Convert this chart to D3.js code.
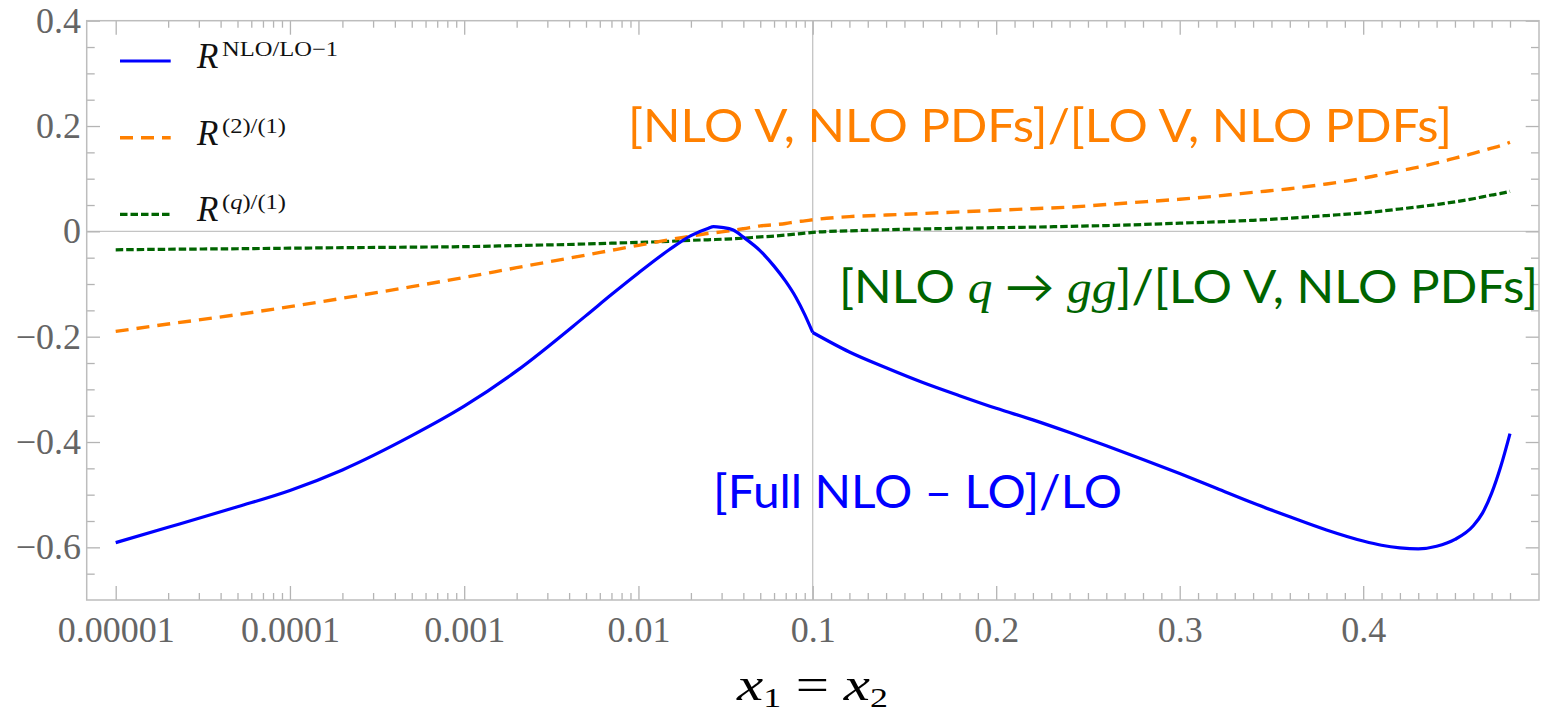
<!DOCTYPE html>
<html><head><meta charset="utf-8">
<script src="https://cdn.jsdelivr.net/npm/d3@7"></script>
<style>body{margin:0;background:#fff}</style>
</head><body>
<svg id="chart" width="1550" height="716"></svg>
<script>
// ---------- data ----------
const xValues = [1e-5, 2e-5, 5e-5, 1e-4, 2e-4, 5e-4, 1e-3, 2e-3, 5e-3, 0.007,
  0.01, 0.015, 0.02, 0.025, 0.027, 0.03, 0.035, 0.04, 0.05, 0.06, 0.07,
  0.08, 0.09, 0.1, 0.12, 0.14, 0.16, 0.18, 0.2, 0.22, 0.24,
  0.26, 0.28, 0.3, 0.32, 0.34, 0.36, 0.38, 0.4, 0.41, 0.42,
  0.43, 0.44, 0.45, 0.46, 0.465, 0.47, 0.475, 0.48];
const blueValues = [-0.591, -0.562, -0.523, -0.492, -0.453, -0.388, -0.332, -0.265, -0.160, -0.120,
  -0.079, -0.035, -0.008, 0.0055, 0.009, 0.0075, 0.0025, -0.011, -0.037, -0.066, -0.095,
  -0.125, -0.158, -0.192, -0.229, -0.259, -0.287, -0.312, -0.336, -0.358, -0.382,
  -0.407, -0.433, -0.460, -0.488, -0.516, -0.542, -0.567, -0.588, -0.596, -0.601,
  -0.603, -0.598, -0.585, -0.559, -0.535, -0.497, -0.446, -0.384];
const orangeValues = [-0.190, -0.176, -0.158, -0.143, -0.127, -0.105, -0.0875, -0.069, -0.045, -0.036,
  -0.0265, -0.016, -0.009, -0.004, -0.0028, -0.001, 0.002, 0.005, 0.0105, 0.0125, 0.015,
  0.018, 0.020, 0.022, 0.028, 0.031, 0.034, 0.037, 0.040, 0.043, 0.046,
  0.051, 0.056, 0.061, 0.067, 0.074, 0.081, 0.090, 0.101, 0.108, 0.115,
  0.122, 0.130, 0.139, 0.148, 0.153, 0.158, 0.163, 0.169];
const greenValues = [-0.035, -0.034, -0.033, -0.032, -0.031, -0.030, -0.029, -0.027, -0.024, -0.0225,
  -0.021, -0.019, -0.017, -0.016, -0.0156, -0.015, -0.014, -0.013, -0.0105, -0.009, -0.007,
  -0.005, -0.0035, -0.002, 0.001, 0.003, 0.0045, 0.006, 0.007, 0.008, 0.0095,
  0.011, 0.013, 0.0155, 0.018, 0.021, 0.025, 0.030, 0.035, 0.0385, 0.0425,
  0.0465, 0.051, 0.056, 0.062, 0.0655, 0.069, 0.072, 0.076];

const logTicks = [1e-5, 1e-4, 1e-3, 1e-2, 0.1];
const logTickLabels = ["0.00001", "0.0001", "0.001", "0.01", "0.1"];
const linTicks = [0.2, 0.3, 0.4];
const linTickLabels = ["0.2", "0.3", "0.4"];
const yTicks = [-0.6, -0.4, -0.2, 0, 0.2, 0.4];
const yTickLabels = ["\u22120.6", "\u22120.4", "\u22120.2", "0", "0.2", "0.4"];

const seriesNames = ["blue", "orange", "green"];
const annotations = ["[Full NLO \u2013 LO]/LO", "[NLO V, NLO PDFs]/[LO V, NLO PDFs]", "[LO V, NLO PDFs]"];

// ---------- layout ----------
const frame = {left: 86.7, right: 1539, top: 20.7, bottom: 600};
const svg = d3.select("#chart");

const xLog = d3.scaleLog().domain([1e-5, 0.1]).range([115.7, 812.7]);
const xLin = d3.scaleLinear().domain([0.1, 0.5]).range([812.7, 812.7 + 0.4 * 1835]);
const xPos = v => v <= 0.1 ? xLog(v) : xLin(v);
const y = d3.scaleLinear().domain([-0.7, 0.4]).range([frame.bottom, frame.top]);

const tickColor = "#b4b4b4";
const labelColor = "#656565";
const tickFont = "'Liberation Serif', 'Times New Roman', serif";

// minor ticks
const logMinor = [];
[1e-5, 1e-4, 1e-3, 1e-2].forEach(d => { for (let k = 2; k <= 9; k++) logMinor.push(k * d); });
const linMinor = d3.range(11, 49).map(i => i / 100).filter(v => ![0.2, 0.3, 0.4].some(m => Math.abs(m - v) < 1e-9));
const yMinor = d3.range(-13, 8).map(i => i * 0.05).filter(v => !yTicks.some(m => Math.abs(m - v) < 1e-9));

// gridlines (zero line, 0.1 line)
svg.append("line").attr("x1", frame.left).attr("x2", frame.right)
  .attr("y1", y(0)).attr("y2", y(0)).attr("stroke", "#c4c4c4").attr("stroke-width", 1.3);
svg.append("line").attr("x1", xLog(0.1)).attr("x2", xLog(0.1))
  .attr("y1", frame.top).attr("y2", frame.bottom).attr("stroke", "#c4c4c4").attr("stroke-width", 1.3);

function styleAxis(g) {
  g.select(".domain").remove();
  g.selectAll("line").attr("stroke", tickColor).attr("stroke-width", 1.3);
  g.selectAll("text").attr("fill", labelColor).style("font-family", tickFont).style("font-size", "36px");
}

// bottom axis
svg.append("g").attr("transform", `translate(0,${frame.bottom})`)
  .call(d3.axisBottom(xLog).tickValues(logTicks).tickFormat((d, i) => logTickLabels[i]).tickSize(-14).tickPadding(16.7)).call(styleAxis);
svg.append("g").attr("transform", `translate(0,${frame.bottom})`)
  .call(d3.axisBottom(xLin).tickValues(linTicks).tickFormat((d, i) => linTickLabels[i]).tickSize(-14).tickPadding(16.7)).call(styleAxis);
svg.append("g").attr("transform", `translate(0,${frame.bottom})`)
  .call(d3.axisBottom(xLog).tickValues(logMinor).tickFormat("").tickSize(-7)).call(styleAxis);
svg.append("g").attr("transform", `translate(0,${frame.bottom})`)
  .call(d3.axisBottom(xLin).tickValues(linMinor).tickFormat("").tickSize(-7)).call(styleAxis);
// top axis
svg.append("g").attr("transform", `translate(0,${frame.top})`)
  .call(d3.axisTop(xLog).tickValues(logTicks).tickFormat("").tickSize(-14)).call(styleAxis);
svg.append("g").attr("transform", `translate(0,${frame.top})`)
  .call(d3.axisTop(xLin).tickValues(linTicks).tickFormat("").tickSize(-14)).call(styleAxis);
svg.append("g").attr("transform", `translate(0,${frame.top})`)
  .call(d3.axisTop(xLog).tickValues(logMinor).tickFormat("").tickSize(-7)).call(styleAxis);
svg.append("g").attr("transform", `translate(0,${frame.top})`)
  .call(d3.axisTop(xLin).tickValues(linMinor).tickFormat("").tickSize(-7)).call(styleAxis);
// left axis
svg.append("g").attr("transform", `translate(${frame.left},0)`)
  .call(d3.axisLeft(y).tickValues(yTicks).tickFormat((d, i) => yTickLabels[i]).tickSize(-13.3).tickPadding(5.7)).call(styleAxis);
svg.append("g").attr("transform", `translate(${frame.left},0)`)
  .call(d3.axisLeft(y).tickValues(yMinor).tickFormat("").tickSize(-8)).call(styleAxis);
// right axis
svg.append("g").attr("transform", `translate(${frame.right},0)`)
  .call(d3.axisRight(y).tickValues(yTicks).tickFormat("").tickSize(-13.3)).call(styleAxis);
svg.append("g").attr("transform", `translate(${frame.right},0)`)
  .call(d3.axisRight(y).tickValues(yMinor).tickFormat("").tickSize(-8)).call(styleAxis);

// frame
svg.append("rect").attr("x", frame.left).attr("y", frame.top)
  .attr("width", frame.right - frame.left).attr("height", frame.bottom - frame.top)
  .attr("fill", "none").attr("stroke", "#bdbdbd").attr("stroke-width", 1.5);

// ---------- series ----------
const colors = {blue: "#0000ff", orange: "#ff8000", green: "#006400"};
const valuesBy = {blue: blueValues, orange: orangeValues, green: greenValues};
const styles = {
  blue: {width: 3.2, dash: null},
  orange: {width: 3.4, dash: "13,8"},
  green: {width: 3.2, dash: "7.5,3"}
};
const line = d3.line().x(d => xPos(d.x)).y(d => y(d.v)).curve(d3.curveMonotoneX);

["green", "orange", "blue"].forEach(name => {
  const pts = xValues.map((x, i) => ({x, v: valuesBy[name][i]}));
  const segs = name === "blue"
    ? [pts.filter(p => p.x <= 0.1), pts.filter(p => p.x >= 0.1)]
    : [pts];
  segs.forEach(seg => {
    svg.append("path").datum(seg).attr("d", line)
      .attr("fill", "none").attr("stroke", colors[name])
      .attr("stroke-width", styles[name].width)
      .attr("stroke-dasharray", styles[name].dash)
      .attr("stroke-linejoin", "round");
  });
});

// ---------- legend ----------
const legendRows = [
  {name: "blue", ly: 61, base: 68.3, sup: "NLO/LO\u22121", supLen: 116},
  {name: "orange", ly: 137.7, base: 145, sup: "(2)/(1)", supLen: 64},
  {name: "green", ly: 214.3, base: 220.7, sup: "(q)/(1)", supLen: 64}
];
legendRows.forEach(r => {
  svg.append("line").attr("x1", 120).attr("x2", 170.7).attr("y1", r.ly).attr("y2", r.ly)
    .attr("stroke", colors[r.name]).attr("stroke-width", styles[r.name].width)
    .attr("stroke-dasharray", styles[r.name].dash);
  svg.append("text").attr("x", 197).attr("y", r.base)
    .style("font-family", tickFont).style("font-style", "italic").style("font-size", "35px")
    .attr("fill", "#111").text("R");
  const t = svg.append("text").attr("x", 222).attr("y", r.base - 12)
    .style("font-family", tickFont).style("font-size", "21px").attr("fill", "#111")
    .attr("textLength", r.supLen).attr("lengthAdjust", "spacingAndGlyphs");
  if (r.name === "green") {
    t.append("tspan").text("(");
    t.append("tspan").style("font-style", "italic").text("q");
    t.append("tspan").text(")/(1)");
  } else {
    t.text(r.sup);
  }
});

// ---------- annotations ----------
const annoFont = "Lato, 'Open Sans', sans-serif";
svg.append("text").attr("x", 628).attr("y", 142)
  .style("font-family", annoFont).style("font-size", "47px").attr("fill", colors.orange)
  .attr("textLength", 824).attr("lengthAdjust", "spacingAndGlyphs")
  .text(annotations[1]);

const g2 = svg.append("text").attr("x", 839).attr("y", 303.3)
  .style("font-family", annoFont).style("font-size", "46px").attr("fill", colors.green)
  .attr("textLength", 699).attr("lengthAdjust", "spacingAndGlyphs");
g2.append("tspan").text("[NLO ");
g2.append("tspan").style("font-family", tickFont).style("font-style", "italic").text("q");
g2.append("tspan").text(" \u2192 ");
g2.append("tspan").style("font-family", tickFont).style("font-style", "italic").text("gg");
g2.append("tspan").text("]/" + annotations[2]);

svg.append("text").attr("x", 713).attr("y", 508.3)
  .style("font-family", annoFont).style("font-size", "47px").attr("fill", colors.blue)
  .attr("textLength", 409).attr("lengthAdjust", "spacingAndGlyphs")
  .text(annotations[0]);

// ---------- axis title ----------
const at = svg.append("text").attr("x", 737).attr("y", 700)
  .style("font-family", tickFont).style("font-size", "46px").attr("fill", "#000")
  .attr("textLength", 151).attr("lengthAdjust", "spacingAndGlyphs");
at.append("tspan").style("font-style", "italic").text("x");
at.append("tspan").attr("dy", 7).style("font-size", "28px").text("1");
at.append("tspan").attr("dy", -7).text(" = ");
at.append("tspan").style("font-style", "italic").text("x");
at.append("tspan").attr("dy", 7).style("font-size", "28px").text("2");
</script>
</body></html>
